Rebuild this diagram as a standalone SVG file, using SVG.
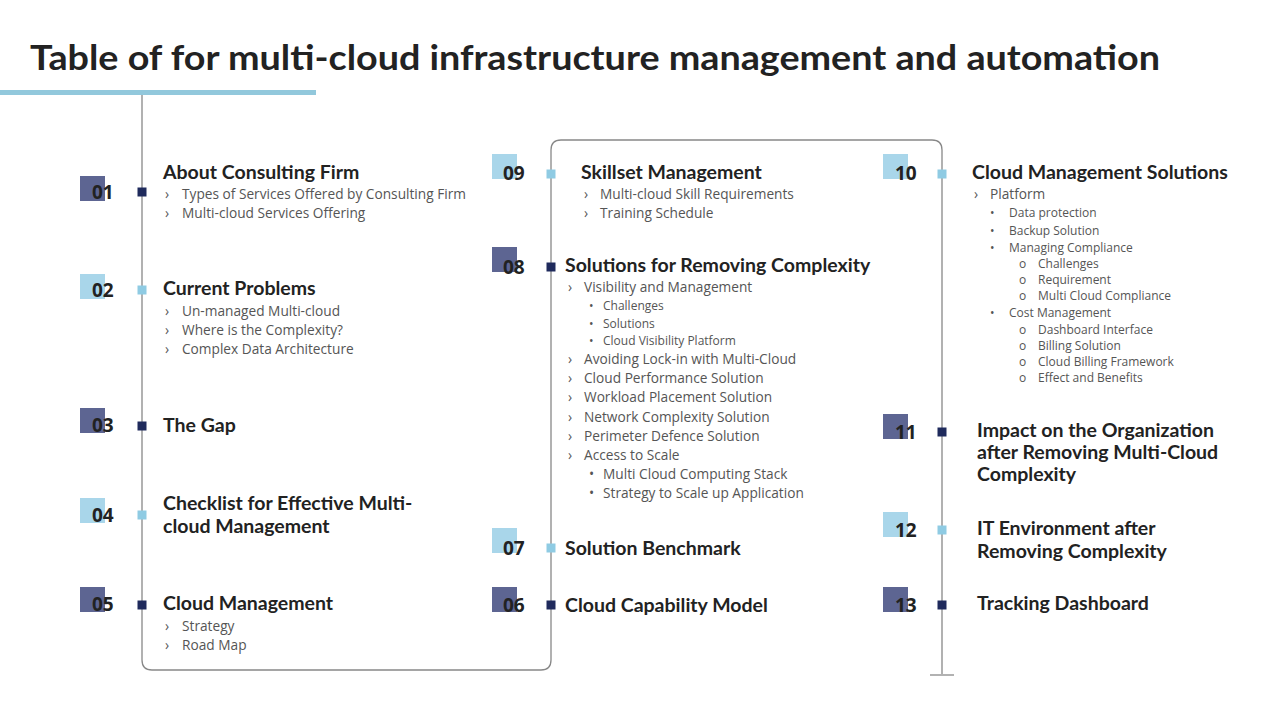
<svg xmlns="http://www.w3.org/2000/svg" width="1280" height="720" viewBox="0 0 1280 720">
<style>
.t{font-family:Lato,"Liberation Sans",sans-serif;font-weight:700;font-size:34px;fill:#222}
.h{font-family:Lato,"Liberation Sans",sans-serif;font-weight:700;font-size:19.5px;fill:#222}
.n{font-family:"Open Sans","Liberation Sans",sans-serif;font-weight:700;font-size:19px;fill:#222}
.s{font-family:"Open Sans","Liberation Sans",sans-serif;font-size:13.7px;fill:#555}
.x{font-family:"Open Sans","Liberation Sans",sans-serif;font-size:12px;fill:#555}
.bd{fill:#5d6592}.bl{fill:#a9d6ea}.md{fill:#1f2a5c}.ml{fill:#8fcbe3}
</style>
<rect width="1280" height="720" fill="#fff"/>
<text class="t" x="30" y="70" textLength="1130" lengthAdjust="spacingAndGlyphs">Table of for multi-cloud infrastructure management and automation</text>
<rect x="0" y="90" width="316" height="5" fill="#92c8dc"/>
<g id="connectors" fill="none" stroke="#888" stroke-width="1.3">
<path d="M142 95 V660 Q142 670 152 670 H541 Q551 670 551 660 V150 Q551 140 561 140 H932 Q942 140 942 150 V674"/>
<path d="M930 675 H954"/>
</g>
<g id="n01"><rect class="bd" x="80" y="176" width="25" height="25"/><text class="n" x="92" y="199">01</text><rect class="md" x="137.5" y="187.5" width="9" height="9"/>
<text class="h" x="163" y="179">About Consulting Firm</text>
<text class="s" x="165" y="199">›</text><text class="s" x="182" y="199">Types of Services Offered by Consulting Firm</text>
<text class="s" x="165" y="218">›</text><text class="s" x="182" y="218">Multi-cloud Services Offering</text></g>
<g id="n02"><rect class="bl" x="80" y="274" width="25" height="25"/><text class="n" x="92" y="297">02</text><rect class="ml" x="137.5" y="285.5" width="9" height="9"/>
<text class="h" x="163" y="295">Current Problems</text>
<text class="s" x="165" y="316">›</text><text class="s" x="182" y="316">Un-managed Multi-cloud</text>
<text class="s" x="165" y="335">›</text><text class="s" x="182" y="335">Where is the Complexity?</text>
<text class="s" x="165" y="354">›</text><text class="s" x="182" y="354">Complex Data Architecture</text></g>
<g id="n03"><rect class="bd" x="80" y="408" width="25" height="25"/><text class="n" x="92" y="432">03</text><rect class="md" x="137.5" y="421.5" width="9" height="9"/>
<text class="h" x="163" y="432">The Gap</text></g>
<g id="n04"><rect class="bl" x="80" y="498" width="25" height="25"/><text class="n" x="92" y="522">04</text><rect class="ml" x="137.5" y="510.5" width="9" height="9"/>
<text class="h" x="163" y="510">Checklist for Effective Multi-</text><text class="h" x="163" y="533">cloud Management</text></g>
<g id="n05"><rect class="bd" x="80" y="587" width="25" height="25"/><text class="n" x="92" y="611">05</text><rect class="md" x="137.5" y="600.5" width="9" height="9"/>
<text class="h" x="163" y="610">Cloud Management</text>
<text class="s" x="165" y="631">›</text><text class="s" x="182" y="631">Strategy</text>
<text class="s" x="165" y="650">›</text><text class="s" x="182" y="650">Road Map</text></g>
<g id="n09"><rect class="bl" x="492" y="154" width="25" height="25"/><text class="n" x="503" y="180">09</text><rect class="ml" x="546.5" y="169.5" width="9" height="9"/>
<text class="h" x="581" y="179">Skillset Management</text>
<text class="s" x="584" y="199">›</text><text class="s" x="600" y="199">Multi-cloud Skill Requirements</text>
<text class="s" x="584" y="218">›</text><text class="s" x="600" y="218">Training Schedule</text></g>
<g id="n08"><rect class="bd" x="492" y="247" width="25" height="25"/><text class="n" x="503" y="274">08</text><rect class="md" x="546.5" y="262.5" width="9" height="9"/>
<text class="h" x="565" y="272">Solutions for Removing Complexity</text>
<text class="s" x="568" y="292">›</text><text class="s" x="584" y="292">Visibility and Management</text>
<text class="x" x="589" y="310">•</text><text class="x" x="603" y="310">Challenges</text>
<text class="x" x="589" y="328">•</text><text class="x" x="603" y="328">Solutions</text>
<text class="x" x="589" y="345">•</text><text class="x" x="603" y="345">Cloud Visibility Platform</text>
<text class="s" x="568" y="364">›</text><text class="s" x="584" y="364">Avoiding Lock-in with Multi-Cloud</text>
<text class="s" x="568" y="383">›</text><text class="s" x="584" y="383">Cloud Performance Solution</text>
<text class="s" x="568" y="402">›</text><text class="s" x="584" y="402">Workload Placement Solution</text>
<text class="s" x="568" y="422">›</text><text class="s" x="584" y="422">Network Complexity Solution</text>
<text class="s" x="568" y="441">›</text><text class="s" x="584" y="441">Perimeter Defence Solution</text>
<text class="s" x="568" y="460">›</text><text class="s" x="584" y="460">Access to Scale</text>
<text class="s" x="589" y="479">•</text><text class="s" x="603" y="479">Multi Cloud Computing Stack</text>
<text class="s" x="589" y="498">•</text><text class="s" x="603" y="498">Strategy to Scale up Application</text></g>
<g id="n07"><rect class="bl" x="492" y="528" width="25" height="25"/><text class="n" x="503" y="555">07</text><rect class="ml" x="546.5" y="543.5" width="9" height="9"/>
<text class="h" x="565" y="555">Solution Benchmark</text></g>
<g id="n06"><rect class="bd" x="492" y="587" width="25" height="25"/><text class="n" x="503" y="612">06</text><rect class="md" x="546.5" y="600.5" width="9" height="9"/>
<text class="h" x="565" y="612">Cloud Capability Model</text></g>
<g id="n10"><rect class="bl" x="883" y="154" width="25" height="25"/><text class="n" x="895" y="180">10</text><rect class="ml" x="937.5" y="169.5" width="9" height="9"/>
<text class="h" x="972" y="179">Cloud Management Solutions</text>
<text class="s" x="974" y="199">›</text><text class="s" x="990" y="199">Platform</text>
<text class="x" x="990" y="217">•</text><text class="x" x="1009" y="217">Data protection</text>
<text class="x" x="990" y="235">•</text><text class="x" x="1009" y="235">Backup Solution</text>
<text class="x" x="990" y="252">•</text><text class="x" x="1009" y="252">Managing Compliance</text>
<text class="x" x="1019" y="268" font-size="11">o</text><text class="x" x="1038" y="268" font-size="11">Challenges</text>
<text class="x" x="1019" y="284" font-size="11">o</text><text class="x" x="1038" y="284" font-size="11">Requirement</text>
<text class="x" x="1019" y="300" font-size="11">o</text><text class="x" x="1038" y="300" font-size="11">Multi Cloud Compliance</text>
<text class="x" x="990" y="317">•</text><text class="x" x="1009" y="317">Cost Management</text>
<text class="x" x="1019" y="334" font-size="11">o</text><text class="x" x="1038" y="334" font-size="11">Dashboard Interface</text>
<text class="x" x="1019" y="350" font-size="11">o</text><text class="x" x="1038" y="350" font-size="11">Billing Solution</text>
<text class="x" x="1019" y="366" font-size="11">o</text><text class="x" x="1038" y="366" font-size="11">Cloud Billing Framework</text>
<text class="x" x="1019" y="382" font-size="11">o</text><text class="x" x="1038" y="382" font-size="11">Effect and Benefits</text></g>
<g id="n11"><rect class="bd" x="883" y="414" width="25" height="25"/><text class="n" x="895" y="439">11</text><rect class="md" x="937.5" y="427.5" width="9" height="9"/>
<text class="h" x="977" y="437">Impact on the Organization</text><text class="h" x="977" y="459">after Removing Multi-Cloud</text><text class="h" x="977" y="481">Complexity</text></g>
<g id="n12"><rect class="bl" x="883" y="512" width="25" height="25"/><text class="n" x="895" y="537">12</text><rect class="ml" x="937.5" y="525.5" width="9" height="9"/>
<text class="h" x="977" y="535">IT Environment after</text><text class="h" x="977" y="558">Removing Complexity</text></g>
<g id="n13"><rect class="bd" x="883" y="587" width="25" height="25"/><text class="n" x="895" y="612">13</text><rect class="md" x="937.5" y="600.5" width="9" height="9"/>
<text class="h" x="977" y="610">Tracking Dashboard</text></g>
</svg>
